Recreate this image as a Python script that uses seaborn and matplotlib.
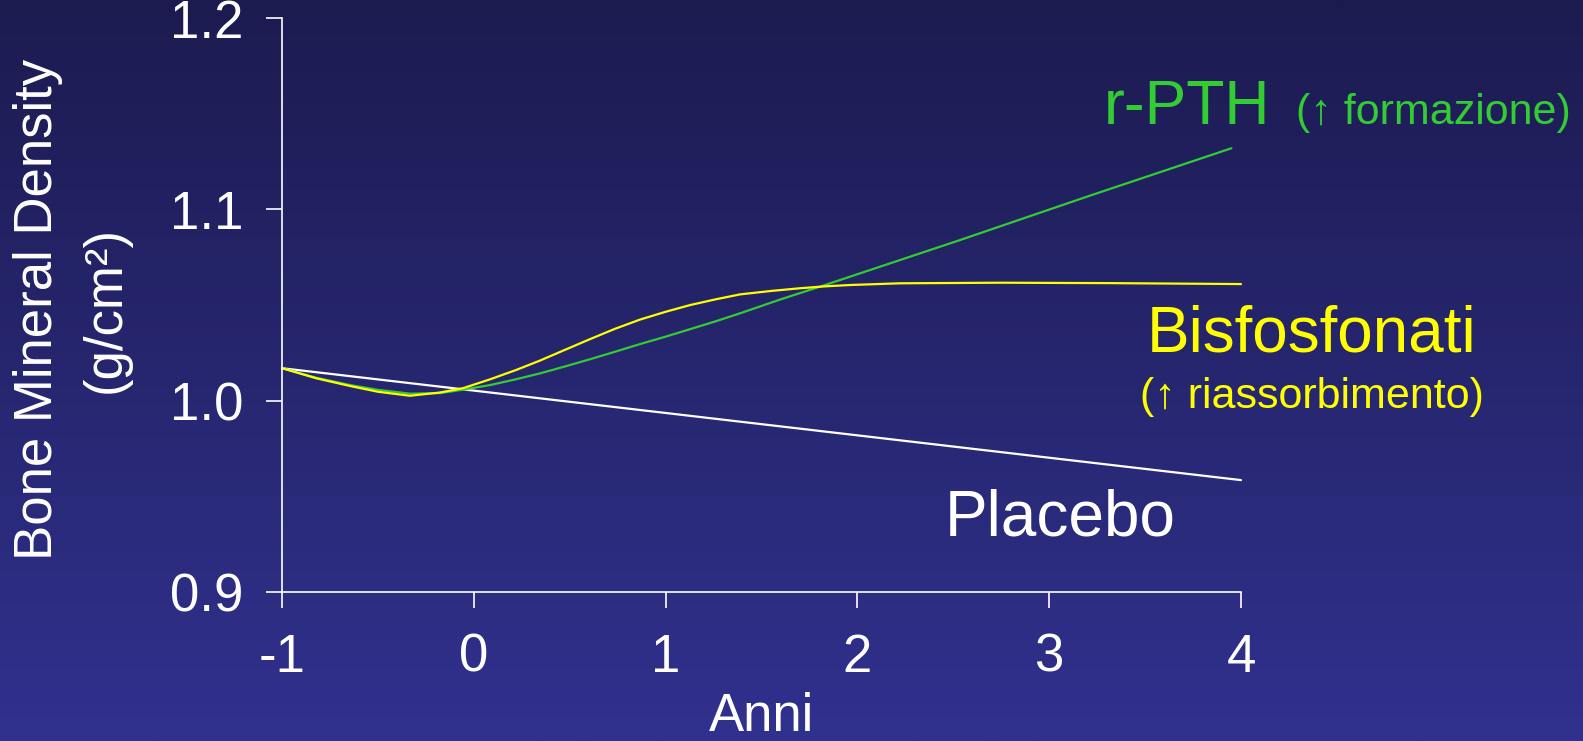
import numpy as np
import pandas as pd
import matplotlib
matplotlib.use("Agg")
import matplotlib.pyplot as plt
import seaborn as sns

# values (years vs BMD g/cm2)
placebo_x = [-1, 4]
placebo_y = [1.017, 0.9585]

bisfo_x = [-1, -0.82, -0.645, -0.5, -0.333, -0.176, -0.055, 0.085, 0.224, 0.345, 0.475,
           0.606, 0.736, 0.866, 1.0, 1.127, 1.26, 1.388, 1.55, 1.70, 1.83, 1.961, 2.222, 2.743, 3.3, 4.0]
bisfo_y = [1.017, 1.0117, 1.0077, 1.0047, 1.0026, 1.0043, 1.0066, 1.0112, 1.0162, 1.0210, 1.0266,
           1.0322, 1.0376, 1.0424, 1.0465, 1.0500, 1.0530, 1.0556, 1.0574, 1.0588, 1.0598, 1.0605, 1.0614, 1.0617, 1.0615, 1.061]

pth_x = [-1, -0.82, -0.645, -0.5, -0.333, -0.176, -0.055, 0.085, 0.215, 0.345, 0.475, 0.606,
         0.736, 0.866, 1.0, 1.127, 1.26, 1.388, 1.6, 1.831, 2.535, 3.2, 3.95]
pth_y = [1.017, 1.0120, 1.0082, 1.0057, 1.0037, 1.0040, 1.0058, 1.0082, 1.0111, 1.0143, 1.0179, 1.0217,
         1.0256, 1.0296, 1.0335, 1.0374, 1.0415, 1.0457, 1.0530, 1.0605, 1.084, 1.1068, 1.132]

xticks = [-1, 0, 1, 2, 3, 4]
yticks = [0.9, 1.0, 1.1, 1.2]

GREEN = "#33cc33"
YELLOW = "#ffff00"

sns.set_style("ticks")
plt.rcParams['font.family'] = ['Liberation Sans', 'DejaVu Sans']

fig = plt.figure(figsize=(15.83, 7.41), dpi=100)

# gradient background
bg = fig.add_axes([0, 0, 1, 1], zorder=-1)
top = np.array([28, 27, 80]) / 255
bot = np.array([49, 49, 143]) / 255
t = np.linspace(0, 1, 256)[:, None]
grad = (top[None, :] * (1 - t) + bot[None, :] * t)[:, None, :]
bg.imshow(grad, aspect='auto', extent=[0, 1, 0, 1])
bg.axis('off')

ax = fig.add_axes([282 / 1583, 149 / 741, 959 / 1583, 573.8 / 741])
ax.patch.set_alpha(0)

sns.lineplot(x=placebo_x, y=placebo_y, color="white", lw=1.6, ax=ax, clip_on=False)
sns.lineplot(x=pth_x, y=pth_y, color=GREEN, lw=1.6, ax=ax, clip_on=False)
sns.lineplot(x=bisfo_x, y=bisfo_y, color=YELLOW, lw=1.6, ax=ax, clip_on=False)

ax.set_xlim(-1, 4)
ax.set_ylim(0.9, 1.2)
ax.set_xticks(xticks)
ax.set_xticklabels([str(v) for v in xticks])
ax.set_yticks(yticks)
ax.set_yticklabels([f"{v:.1f}" for v in yticks])

for side in ['top', 'right']:
    ax.spines[side].set_visible(False)
for side in ['left', 'bottom']:
    ax.spines[side].set_color('white')
    ax.spines[side].set_linewidth(1.2)

ax.tick_params(axis='both', colors='white', direction='out', length=11.5, width=1.2, labelsize=38)
ax.tick_params(axis='y', pad=16)
ax.tick_params(axis='x', pad=18)

ax.set_xlabel("Anni", color='white', fontsize=38, va='baseline')
ax.xaxis.set_label_coords(0.5, -0.242)
ax.set_ylabel("Bone Mineral Density\n(g/cm²)", color='white', fontsize=38,
              va='center', ha='center', linespacing=1.44)
ax.yaxis.set_label_coords(-0.219, 0.493)

# series labels
ax.text(3.285, 1.1447, "r-PTH", color=GREEN, fontsize=45, ha='left', va='baseline', clip_on=False)
ax.text(4.285, 1.1447, "(↑ formazione)", color=GREEN, fontsize=31, ha='left', va='baseline', clip_on=False)
ax.text(4.37, 1.026, "Bisfosfonati", color=YELLOW, fontsize=46, ha='center', va='baseline', clip_on=False)
ax.text(4.37, 0.9964, "(↑ riassorbimento)", color=YELLOW, fontsize=31, ha='center', va='baseline', clip_on=False)
ax.text(3.056, 0.9293, "Placebo", color='white', fontsize=46, ha='center', va='baseline', clip_on=False)

fig.savefig("out.png", dpi=100)
